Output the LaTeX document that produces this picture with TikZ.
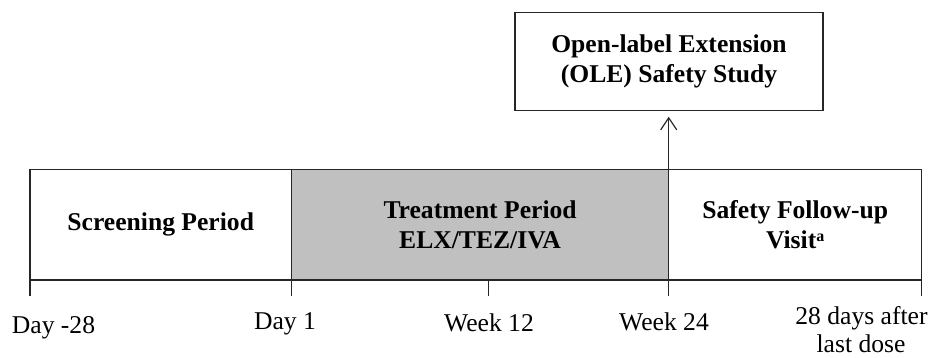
\documentclass[tikz,border=0pt]{standalone}
\usepackage{fontspec}
\setmainfont{Liberation Serif}
\usetikzlibrary{arrows.meta,calc}
\begin{document}
\begin{tikzpicture}[x=1pt,y=-1pt,
  every node/.style={font=\fontsize{25.6}{30}\selectfont, inner sep=0pt, outer sep=0pt},
  periodbox/.style={draw=black!85, line width=1.3pt, rectangle, minimum height=110.5pt, align=center, font=\fontsize{25.6}{30}\selectfont\bfseries},
  tickline/.style={draw=black!85, line width=1.3pt},
  lbl/.style={anchor=base, align=center}]
\useasboundingbox (0,0) rectangle (932,358);
% period boxes
\node[periodbox, minimum width=261.5pt] (screen) at (160.75,224.75) {Screening Period};
\node[periodbox, fill={rgb,255:red,192;green,192;blue,192}, minimum width=377.2pt] (treat) at (480.1,224.75) {Treatment Period\\ELX/TEZ/IVA};
\node[periodbox, minimum width=253pt] (safe) at (795.2,224.75) {Safety Follow-up\\Visit{\fontsize{16}{18}\selectfont\raisebox{7pt}{a}}};
% OLE box
\node[periodbox, minimum width=308pt, minimum height=98.5pt] (ole) at (669,61.5) {Open-label Extension\\(OLE) Safety Study};
% arrow
\coordinate (arrtip) at ($(ole.south -| safe.north west)+(0,6)$);
\draw[tickline, -{Straight Barb[length=12pt,width=16pt,line width=1.2pt]}] (safe.north west) -- (arrtip);
% ticks
\coordinate (t0) at (screen.south west);
\coordinate (t1) at (treat.south west);
\coordinate (t2) at (488.7,280);
\coordinate (t3) at (safe.south west);
\coordinate (t4) at (safe.south east);
\foreach \t in {t0,t1,t2,t3,t4}{\draw[tickline] (\t) -- ($(\t)+(0,16)$);}
% labels
\node[lbl] (l0) at (53.5,333) {Day -28};
\node[lbl] (l1) at (285,329) {Day 1};
\node[lbl] (l2) at (489,331) {Week 12};
\node[lbl] (l3) at (664,330) {Week 24};
\node[lbl] (l4a) at (861.5,324) {28 days after};
\node[lbl] (l4b) at (861,352) {last dose};
\end{tikzpicture}
\end{document}
